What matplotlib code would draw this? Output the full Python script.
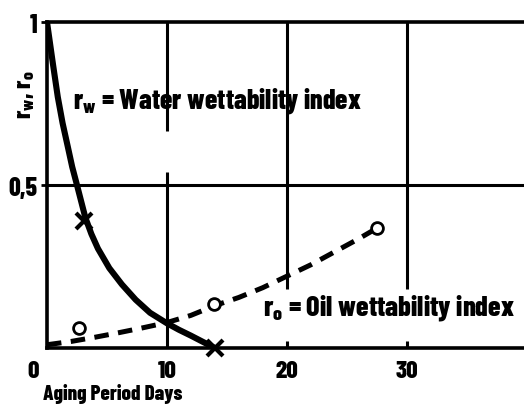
import matplotlib
matplotlib.use("Agg")
import matplotlib.pyplot as plt

# valores
dias_rw = [0, 0.5, 0.9, 1.3, 1.75, 2.1, 2.5, 2.85, 3.2, 3.7, 4.25, 5.2, 6.25, 7.4, 8.6, 10, 11, 12, 13, 14]
indice_rw = [1.0, 0.87, 0.77, 0.69, 0.615, 0.556, 0.5, 0.45, 0.40, 0.35, 0.305, 0.245, 0.195, 0.148, 0.108, 0.076, 0.056, 0.038, 0.019, 0.0]
puntos_rw_x = [3.1, 14]
puntos_rw_y = [0.39, 0.0]

dias_ro = [0, 2, 4, 6, 8, 10, 12, 14, 16, 18, 20, 22, 24, 26, 27.5]
indice_ro = [0.01, 0.02, 0.033, 0.047, 0.062, 0.078, 0.1, 0.13, 0.155, 0.185, 0.22, 0.255, 0.295, 0.335, 0.367]
puntos_ro_x = [2.7, 13.9, 27.5]
puntos_ro_y = [0.06, 0.135, 0.367]

ticks_x = [10, 20, 30]
ticks_y = [0.5, 1]
etiquetas_y = ["0,5", "1"]

peso = 800
plt.rcParams["font.family"] = ["Barlow Condensed", "DejaVu Sans"]
plt.rcParams["font.weight"] = peso
plt.rcParams["mathtext.fontset"] = "custom"
plt.rcParams["mathtext.rm"] = "Barlow Condensed:weight=800"
plt.rcParams["mathtext.it"] = "Barlow Condensed:weight=800"
plt.rcParams["mathtext.bf"] = "Barlow Condensed:weight=800"

fig = plt.figure(figsize=(5.24, 4.06), dpi=100)
ax = fig.add_axes([0.0897, 0.1404, 0.9103, 0.8029])
ax.set_xlim(0, 39.8)
ax.set_ylim(0, 1)

# rejilla con los cortes del original
ax.axhline(0.5, color="black", lw=2.2, zorder=1)
ax.vlines(10, 0, 0.54, color="black", lw=2.2, zorder=1)
ax.vlines(10, 0.667, 1, color="black", lw=2.2, zorder=1)
for xg in [20, 30]:
    ax.vlines(xg, 0.18, 1, color="black", lw=2.2, zorder=1)
    ax.vlines(xg, 0, 0.02, color="black", lw=2.2, zorder=1)

ax.plot(dias_rw, indice_rw, color="black", lw=4.4, solid_capstyle="round",
        solid_joinstyle="round", zorder=3)
ax.plot(puntos_rw_x, puntos_rw_y, ls="none", marker="x", ms=11, mew=3, color="black", zorder=4, clip_on=False)

ax.plot(dias_ro, indice_ro, color="black", lw=3.6, ls=(0, (2.9, 1.9)), zorder=3)
ax.plot(puntos_ro_x, puntos_ro_y, ls="none", marker="o", ms=8.5, mew=2, mfc="white", mec="black", zorder=4)

for lado in ["left", "bottom", "top"]:
    ax.spines[lado].set_linewidth(2.6)
ax.spines["right"].set_visible(False)

ax.set_xticks(ticks_x)
ax.set_xticklabels([str(t) for t in ticks_x], fontsize=18, fontweight=peso)
ax.set_yticks(ticks_y)
ax.set_yticklabels(etiquetas_y, fontsize=18.5, fontweight=peso)
ax.tick_params(axis="x", length=0, pad=9)
ax.tick_params(axis="y", length=4, width=2, pad=3)
ax.text(-1.15, -0.07, "0", transform=ax.get_xaxis_transform(), ha="center", va="center",
        fontsize=18, fontweight=peso, clip_on=False)

ax.text(-0.008, -0.17, "Aging Period Days", transform=ax.transAxes, ha="left", va="bottom",
        fontsize=15, fontweight=peso, clip_on=False)
ax.text(-0.045, 0.78, r"r$_\mathrm{w}$, r$_\mathrm{o}$", transform=ax.transAxes, rotation=90,
        ha="center", va="center", fontsize=18, fontweight=peso)

ax.text(2.2, 0.76, r"r$_\mathrm{w}$ = Water wettability index", ha="left", va="center",
        fontsize=20, fontweight=peso, zorder=5)
ax.text(18.0, 0.126, r"r$_\mathrm{o}$ = Oil wettability index", ha="left", va="center",
        fontsize=20.3, fontweight=peso, zorder=5)

fig.savefig("out.png", dpi=100)
